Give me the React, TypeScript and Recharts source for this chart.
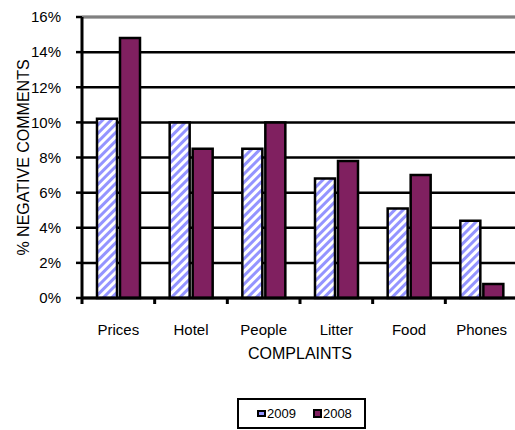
import { Bar, BarChart, CartesianGrid, Label, ReferenceLine, XAxis, YAxis } from "recharts"

const categories = ["Prices", "Hotel", "People", "Litter", "Food", "Phones"]
const values2009 = [10.2, 10.0, 8.5, 6.8, 5.1, 4.4]
const values2008 = [14.8, 8.5, 10.0, 7.8, 7.0, 0.8]
const yTicks = [0, 2, 4, 6, 8, 10, 12, 14, 16]

const data = categories.map((name, i) => ({
    name,
    y2009: values2009[i],
    y2008: values2008[i],
}))

const font = "'Liberation Sans', Arial, sans-serif"
const maroon = "#802060"
const stripeBlue = "#9494ff"

const XTick = (props: any) => {
    const { x, y, payload } = props
    const half = payload?.offset ?? props.width / props.visibleTicksCount / 2
    const axisY = y - 26
    return (
        <g>
            <line x1={x - half} x2={x - half} y1={axisY} y2={axisY + 6} stroke="#000" strokeWidth={3} />
            <text x={x} y={y} dy="0.71em" textAnchor="middle" fontSize={15} fill="#000" fontFamily={font}>
                {payload.value}
            </text>
        </g>
    )
}

const YTitle = (props: any) => {
    const vb = props.viewBox || { y: 17, height: 281 }
    const cy = vb.y + vb.height / 2
    return (
        <text x={23} y={cy} transform={`rotate(-90 23 ${cy})`} textAnchor="middle" dominantBaseline="central" fontSize={16} fill="#000" fontFamily={font}>
            % NEGATIVE COMMENTS
        </text>
    )
}

const XTitle = (props: any) => {
    const vb = props.viewBox || { x: 82, width: 436 }
    return (
        <text x={vb.x + vb.width / 2} y={359} textAnchor="middle" fontSize={16} fill="#000" fontFamily={font}>
            COMPLAINTS
        </text>
    )
}

const App = () => {
    return (
        <div style={{ position: "absolute", left: 0, top: 0, width: 515, height: 430, overflow: "hidden", background: "#fff", fontFamily: font }}>
            <BarChart width={520} height={375} data={data} margin={{ top: 17, right: 2, bottom: 0, left: 0 }} barCategoryGap={15} barGap={3}>
                <defs>
                    <pattern id="stripes" patternUnits="userSpaceOnUse" width={6} height={6} patternTransform="rotate(45)">
                        <rect width={6} height={6} fill="#fff" />
                        <rect width={3} height={6} fill={stripeBlue} />
                    </pattern>
                </defs>
                <CartesianGrid vertical={false} stroke="#000" strokeWidth={2.5} strokeOpacity={1} />
                <ReferenceLine y={16} stroke="#808080" strokeWidth={2.5} />
                <XAxis
                    dataKey="name"
                    height={77}
                    axisLine={{ stroke: "#000", strokeWidth: 3 }}
                    tickLine={false}
                    tickSize={0}
                    tickMargin={26}
                    tick={<XTick />}
                    interval={0}
                >
                    <Label content={<XTitle />} />
                </XAxis>
                <YAxis
                    width={82}
                    domain={[0, 16]}
                    ticks={yTicks}
                    interval={0}
                    tickFormatter={(v) => `${v}%`}
                    axisLine={{ stroke: "#000", strokeWidth: 3 }}
                    tickLine={{ stroke: "#000", strokeWidth: 2.5 }}
                    tickSize={6}
                    tickMargin={15}
                    tick={{ fill: "#000", fontSize: 15, fontFamily: font }}
                >
                    <Label content={<YTitle />} />
                </YAxis>
                <Bar dataKey="y2009" fill="url(#stripes)" stroke="#000" strokeWidth={2.5} isAnimationActive={false} />
                <Bar dataKey="y2008" fill={maroon} stroke="#000" strokeWidth={2.5} isAnimationActive={false} />
            </BarChart>
            <div
                style={{
                    position: "absolute",
                    left: 237,
                    top: 398,
                    width: 125,
                    height: 27,
                    border: "2px solid #000",
                    display: "flex",
                    alignItems: "center",
                    fontSize: 13,
                    color: "#000",
                }}
            >
                <svg width={9} height={7} style={{ marginLeft: 18 }}>
                    <rect x={1} y={1} width={7} height={5} fill={stripeBlue} stroke="#000" strokeWidth={2} />
                </svg>
                <span style={{ marginLeft: 1 }}>2009</span>
                <svg width={9} height={9} style={{ marginLeft: 17 }}>
                    <rect x={1} y={1} width={7} height={7} fill={maroon} stroke="#000" strokeWidth={2} />
                </svg>
                <span style={{ marginLeft: 1 }}>2008</span>
            </div>
        </div>
    )
}

export default App
